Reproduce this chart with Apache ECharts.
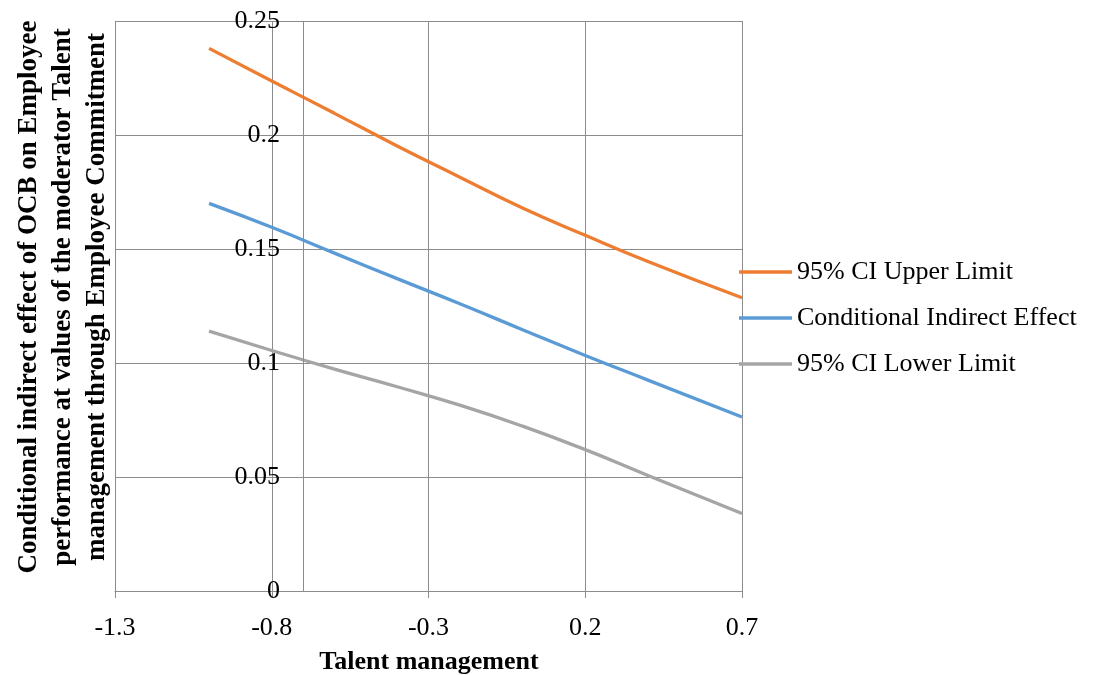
<!DOCTYPE html>
<html>
<head>
<meta charset="utf-8">
<script src="https://cdn.jsdelivr.net/npm/echarts@6/dist/echarts.min.js"></script>
<style>
  html, body { margin: 0; padding: 0; background: #ffffff; }
  #chart { width: 1093px; height: 675px; }
</style>
</head>
<body>
<div id="chart"></div>
<script>
// Values of the moderator (Talent management)
const talentValues = [-1.0, -0.8, -0.6, -0.4, -0.2, 0.0, 0.2, 0.4, 0.7];

// Conditional indirect effect and its 95% bootstrap interval
const upperLimit = [0.2380, 0.2237, 0.2095, 0.1952, 0.1815, 0.1680, 0.1560, 0.1445, 0.1286];
const indirectEffect = [0.1700, 0.1595, 0.1482, 0.1370, 0.1260, 0.1146, 0.1033, 0.0925, 0.0763];
const lowerLimit = [0.1140, 0.1055, 0.0973, 0.0896, 0.0815, 0.0723, 0.0620, 0.0507, 0.0340];

const seriesNames = ['95% CI Upper Limit', 'Conditional Indirect Effect', '95% CI Lower Limit'];
const seriesColors = ['#ED7D31', '#5B9BD5', '#A5A5A5'];

// Where the vertical axis crosses the horizontal one
const yAxisCrossing = -0.7;

const xTitle = 'Talent management';
const yTitle = [
  'Conditional indirect effect of OCB on Employee',
  'performance at values of the moderator Talent',
  'management through Employee Commitment'
];

const FONT = '"Liberation Serif", "Times New Roman", serif';
const GRID_COLOR = '#8c8c8c';

function pairs(xs, ys) {
  return xs.map((x, i) => [x, ys[i]]);
}

const seriesData = [upperLimit, indirectEffect, lowerLimit];

const series = seriesData.map((vals, i) => ({
  name: seriesNames[i],
  type: 'line',
  data: pairs(talentValues, vals),
  smooth: true,
  symbol: 'none',
  lineStyle: { color: seriesColors[i], width: 3.3 },
  itemStyle: { color: seriesColors[i] },
  z: 3
}));

// Vertical axis line drawn at its crossing value
series.push({
  type: 'line',
  data: [],
  silent: true,
  markLine: {
    silent: true,
    symbol: ['none', 'none'],
    label: { show: false },
    lineStyle: { color: GRID_COLOR, width: 1, type: 'solid' },
    data: [{ xAxis: yAxisCrossing }],
    animation: false
  },
  z: 1
});

const chart = echarts.init(document.getElementById('chart'), null, { renderer: 'canvas' });

chart.setOption({
  animation: false,
  backgroundColor: '#ffffff',
  textStyle: { fontFamily: FONT },
  grid: { left: 115, right: 351, top: 21, bottom: 84, containLabel: false },
  legend: {
    orient: 'vertical',
    left: 739,
    top: 259,
    padding: 0,
    icon: 'rect',
    itemWidth: 53,
    itemHeight: 3.3,
    itemGap: 20,
    data: seriesNames,
    textStyle: { fontFamily: FONT, fontSize: 26, color: '#000000' }
  },
  xAxis: {
    type: 'value',
    min: -1.3,
    max: 0.7,
    interval: 0.5,
    axisLine: { show: true, onZero: false, lineStyle: { color: GRID_COLOR, width: 1 } },
    axisTick: { show: true, length: 7, lineStyle: { color: GRID_COLOR } },
    axisLabel: { fontFamily: FONT, fontSize: 26, color: '#000000', margin: 24 },
    splitLine: { show: true, lineStyle: { color: GRID_COLOR, width: 1 } }
  },
  yAxis: {
    type: 'value',
    min: 0,
    max: 0.25,
    interval: 0.05,
    axisLine: { show: false },
    axisTick: { show: false },
    axisLabel: {
      inside: true,
      margin: 165,
      align: 'right',
      fontFamily: FONT,
      fontSize: 26,
      color: '#000000'
    },
    splitLine: { show: true, lineStyle: { color: GRID_COLOR, width: 1 } }
  },
  graphic: [
    {
      type: 'text',
      x: 429,
      y: 662,
      style: {
        text: xTitle,
        font: 'bold 26px ' + FONT,
        fill: '#000000',
        align: 'center',
        verticalAlign: 'middle'
      }
    },
    {
      type: 'text',
      x: 63,
      y: 297,
      rotation: Math.PI / 2,
      style: {
        text: yTitle.join('\n'),
        font: 'bold 27px ' + FONT,
        fill: '#000000',
        align: 'center',
        verticalAlign: 'middle',
        lineHeight: 34
      }
    }
  ],
  series: series
});
</script>
</body>
</html>
